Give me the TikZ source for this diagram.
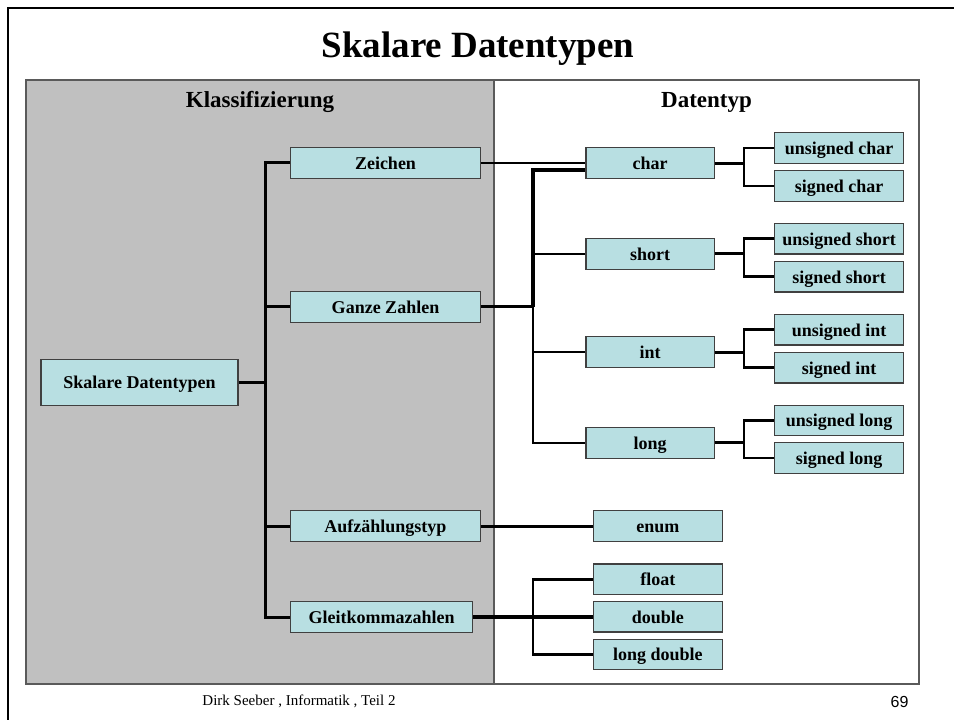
\documentclass[tikz,border=0pt]{standalone}
\usepackage{fontspec}
\setmainfont{Liberation Serif}
\newfontfamily\numfont{Liberation Sans}
\definecolor{tablegray}{HTML}{C0C0C0}
\definecolor{boxfill}{HTML}{B8DFE2}
\definecolor{boxborder}{HTML}{404040}
\definecolor{tableborder}{HTML}{5A5A5A}
\tikzset{
  box/.style={draw=boxborder, fill=boxfill, line width=1.2pt, inner sep=0pt,
    font=\bfseries\fontsize{18}{20}\selectfont, text height=13pt, text depth=0pt, anchor=center},
  bw/.style={minimum width=189.6pt, minimum height=30.6pt},
  mw/.style={minimum width=128.3pt, minimum height=30.5pt},
  sw/.style={minimum width=129pt, minimum height=30.4pt},
  conn/.style={line width=3pt, line join=miter},
  connthin/.style={line width=2.6pt, line join=miter},
  hdr/.style={font=\bfseries\fontsize{23}{26}\selectfont, anchor=base, inner sep=0pt},
}
\begin{document}
\begin{tikzpicture}[x=1pt, y=-1pt]
\useasboundingbox (0,0) rectangle (954,720);
% outer slide frame
\draw[line width=2.2pt, line join=miter] (8,720) -- (8,8) -- (954,8);
% title
\node[font=\bfseries\fontsize{37}{42}\selectfont, anchor=base, inner sep=0pt] (title) at (478,57.5) {Skalare Datentypen};
% table
\fill[tablegray] (26,80) rectangle (494,684);
\draw[tableborder, line width=1.4pt] (26,80) rectangle (919,684);
\draw[tableborder, line width=1.4pt] (494,80) -- (494,684);
\node[hdr] (hk) at (260,107) {Klassifizierung};
\node[hdr] (hd) at (706.5,107) {Datentyp};
% left column nodes
\node[box, minimum width=197pt, minimum height=46pt] (sd) at (139.5,382.3) {Skalare Datentypen};
\node[box, bw] (zeichen) at (385.5,162.8) {Zeichen};
\node[box, bw] (ganze) at (385.5,306.9) {Ganze Zahlen};
\node[box, bw] (aufz) at (385.4,526) {Aufzählungstyp};
\node[box, minimum width=182pt, minimum height=31pt] (gleit) at (381.7,617.2) {Gleitkommazahlen};
% middle column
\node[box, mw] (char) at (650.2,163) {char};
\node[box, mw] (short) at (650.2,253.9) {short};
\node[box, mw] (int) at (650.2,352) {int};
\node[box, mw] (long) at (650.2,442.9) {long};
\node[box, sw] (enum) at (657.8,526) {enum};
\node[box, sw] (float) at (657.8,579.2) {float};
\node[box, sw] (double) at (657.8,616.7) {double};
\node[box, sw] (ldouble) at (657.8,654.3) {long double};
% right column
\node[box, sw] (uchar) at (839.2,148) {unsigned char};
\node[box, sw] (schar) at (839.2,185.9) {signed char};
\node[box, sw] (ushort) at (839.2,238.7) {unsigned short};
\node[box, sw] (sshort) at (839.2,276.7) {signed short};
\node[box, sw] (uint) at (839.2,329.7) {unsigned int};
\node[box, sw] (sint) at (839.2,367.7) {signed int};
\node[box, sw] (ulong) at (839.2,420.3) {unsigned long};
\node[box, sw] (slong) at (839.2,458) {signed long};
% footer
\node[font=\fontsize{15}{18}\selectfont, anchor=base, inner sep=0pt] (foot) at (299,705) {Dirk Seeber , Informatik , Teil 2};
\node[font=\numfont\fontsize{16}{20}\selectfont, anchor=base, inner sep=0pt] (page) at (899.5,707) {69};
% junction coordinates
\coordinate (t1) at (265,382);
\coordinate (g1) at (533,170);
\coordinate (f1) at (533,579);
\coordinate (sx) at (744,0);
% connectors left trunk
\draw[conn] (sd.east) -- (sd.east -| t1);
\draw[conn] (zeichen.west) -- (zeichen.west -| t1) -- (gleit.west -| t1) -- (gleit.west);
\draw[conn] (ganze.west) -- (ganze.west -| t1);
\draw[conn] (aufz.west) -- (aufz.west -| t1);
% to data types
\draw[connthin] (zeichen.east) -- (zeichen.east -| char.west);
\draw[conn] (ganze.east) -- (ganze.east -| g1);
\draw[line width=3.6pt, line join=miter] (g1 -| char.west) -- (g1) -- (ganze.east -| g1);
\draw[connthin] (ganze.east -| g1) -- (long.west -| g1) -- (long.west);
\draw[connthin] (short.west) -- (short.west -| g1);
\draw[connthin] (int.west) -- (int.west -| g1);
\draw[conn] (aufz.east) -- (aufz.east -| enum.west);
\draw[line width=3.6pt] (gleit.east) -- (gleit.east -| double.west);
\draw[connthin] (float.west) -- (float.west -| f1) -- (ldouble.west -| f1) -- (ldouble.west);
% sub branches
\draw[conn] (char.east) -- (char.east -| sx);
\draw[connthin] (uchar.west) -- (uchar.west -| sx) -- (schar.west -| sx) -- (schar.west);
\draw[conn] (short.east) -- (short.east -| sx);
\draw[connthin] (ushort.west) -- (ushort.west -| sx) -- (sshort.west -| sx) -- (sshort.west);
\draw[conn] (int.east) -- (int.east -| sx);
\draw[connthin] (uint.west) -- (uint.west -| sx) -- (sint.west -| sx) -- (sint.west);
\draw[conn] (long.east) -- (long.east -| sx);
\draw[connthin] (ulong.west) -- (ulong.west -| sx) -- (slong.west -| sx) -- (slong.west);
\end{tikzpicture}
\end{document}
